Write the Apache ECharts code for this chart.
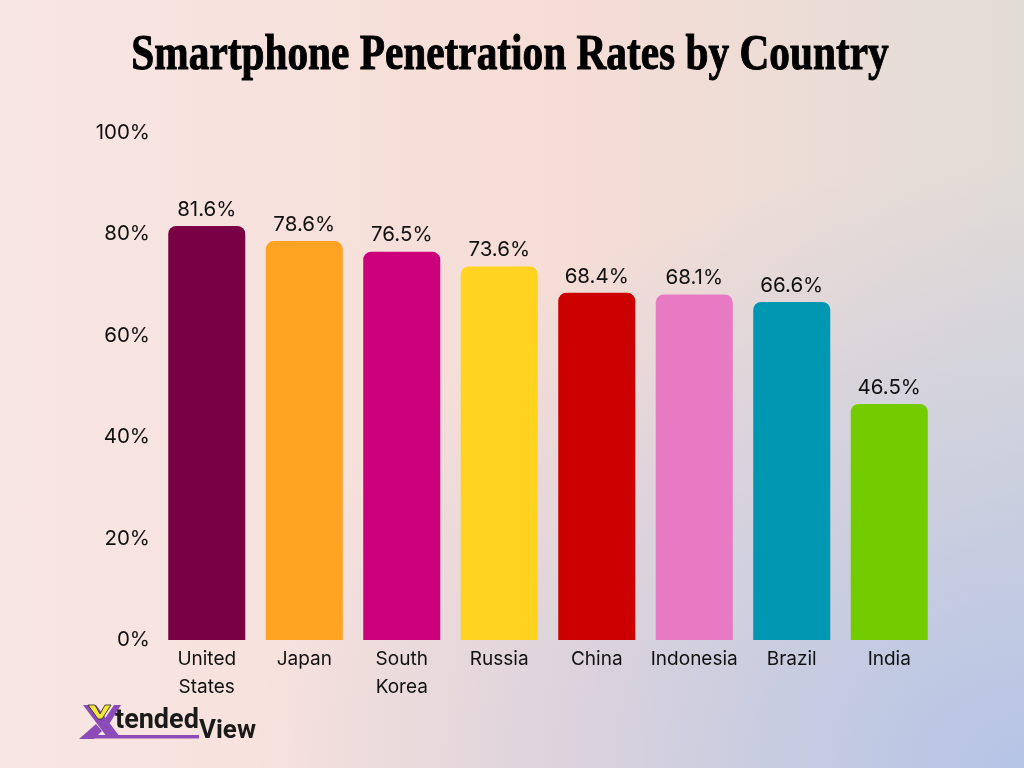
<!DOCTYPE html>
<html>
<head>
<meta charset="utf-8">
<script src="https://cdn.jsdelivr.net/npm/echarts@6/dist/echarts.min.js"></script>
<style>
html,body{margin:0;padding:0;width:1024px;height:768px;overflow:hidden;}
body{
  background:
    radial-gradient(ellipse 75% 80% at 100% 100%, rgba(182,196,230,1) 0%, rgba(182,196,230,0.55) 45%, rgba(182,196,230,0) 100%),
    linear-gradient(to right, #f8e6e3 0%, #f6ddd6 55%, #e2dcd6 100%);
}
#chart{width:1024px;height:768px;}
</style>
</head>
<body>
<div id="chart"></div>
<script>
const categories = ['United\nStates', 'Japan', 'South\nKorea', 'Russia', 'China', 'Indonesia', 'Brazil', 'India'];
const values = [81.6, 78.6, 76.5, 73.6, 68.4, 68.1, 66.6, 46.5];
const barColors = ['#7a0045', '#ffa323', '#cc007a', '#ffd320', '#cc0000', '#e87ac3', '#0097b2', '#72cc00'];
const yTicks = [0, 20, 40, 60, 80, 100];

const chart = echarts.init(document.getElementById('chart'), null, {renderer: 'canvas'});
const font = 'Inter, "Noto Sans", sans-serif';
const purple = '#8b4cb9';
chart.setOption({
  backgroundColor: 'transparent',
  animation: false,
  grid: {left: 158, right: 86, top: 132.5, bottom: 128, containLabel: false},
  xAxis: {
    type: 'category',
    data: categories,
    axisLine: {show: false},
    axisTick: {show: false},
    axisLabel: {color: '#111', fontSize: 19, fontFamily: font, margin: 5, lineHeight: 28, interval: 0}
  },
  yAxis: {
    type: 'value',
    min: yTicks[0],
    max: yTicks[yTicks.length - 1],
    interval: 20,
    splitLine: {show: false},
    axisLine: {show: false},
    axisTick: {show: false},
    axisLabel: {color: '#111', fontSize: 20.5, fontFamily: font, margin: 8, formatter: '{value}%'}
  },
  series: [{
    type: 'bar',
    data: values.map((v, i) => ({value: v, itemStyle: {color: barColors[i]}})),
    barCategoryGap: '21%',
    itemStyle: {borderRadius: [8, 8, 0, 0]},
    label: {show: true, position: 'top', distance: 6, color: '#111', fontSize: 20.5, fontFamily: font, formatter: p => p.value.toFixed(1) + '%'}
  }],
  graphic: [
    {
      type: 'text',
      x: 510, y: 30,
      scaleX: 0.81,
      style: {text: 'Smartphone Penetration Rates by Country', font: 'bold 51px "Liberation Serif", serif', fill: '#000', stroke: '#000', lineWidth: 1, align: 'center', verticalAlign: 'top'}
    },
    {type: 'polygon', shape: {points: [[83,705],[96,705],[120,737],[107,737]]}, style: {fill: purple}},
    {type: 'polygon', shape: {points: [[104,720],[114,705],[121,705],[108,726]]}, style: {fill: purple}},
    {type: 'polygon', shape: {points: [[96,724],[102,731],[94,739],[79,739]]}, style: {fill: purple}},
    {type: 'rect', shape: {x: 92, y: 735, width: 107, height: 3.5}, style: {fill: purple}},
    {type: 'polygon', shape: {points: [[88,705],[95,705],[100,714],[105,705],[111,705],[102,719],[98,719]]}, style: {fill: '#f3e53a', stroke: '#222', lineWidth: 0.8}},
    {type: 'text', x: 115, y: 708, style: {text: 'tended', font: 'bold 27px Roboto, sans-serif', fill: '#1a1a1a', verticalAlign: 'top'}},
    {type: 'text', x: 199, y: 718, style: {text: 'View', font: 'bold 26px Roboto, sans-serif', fill: '#1a1a1a', verticalAlign: 'top'}}
  ]
});
</script>
</body>
</html>
